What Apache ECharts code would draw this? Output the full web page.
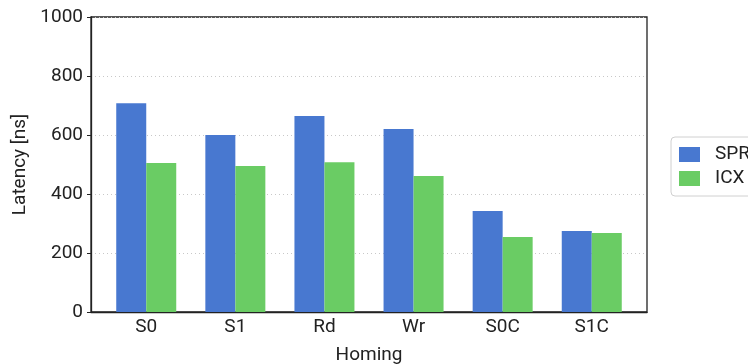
<!DOCTYPE html>
<html>
<head>
<meta charset="utf-8">
<script src="https://cdn.jsdelivr.net/npm/echarts@6/dist/echarts.min.js"></script>
<style>
html,body{margin:0;padding:0;background:#fff;}
#chart{width:748px;height:364px;}
</style>
</head>
<body>
<div id="chart"></div>
<script>
const categories = ['S0', 'S1', 'Rd', 'Wr', 'S0C', 'S1C'];
const sprValues = [708, 600, 664, 620, 342, 275];
const icxValues = [505, 495, 508, 461, 254, 268];
const yTicks = [0, 200, 400, 600, 800, 1000];
const seriesNames = ['SPR', 'ICX'];

const chart = echarts.init(document.getElementById('chart'), null, {renderer: 'canvas'});
const font = 'Roboto';
const fs = 19;
const toPairs = vals => vals.map((v, i) => [i, v]);

chart.setOption({
  animation: false,
  backgroundColor: '#fff',
  textStyle: {fontFamily: font},
  grid: {
    left: 91, top: 17, width: 556, height: 295,
    outerBoundsMode: 'none', containLabel: false,
    show: true, borderColor: '#222', borderWidth: 1.3, backgroundColor: 'transparent'
  },
  legend: {
    left: 671, top: 137,
    orient: 'vertical',
    data: seriesNames,
    itemWidth: 21, itemHeight: 15, itemGap: 5,
    padding: [8, 10, 8, 8],
    borderColor: '#d0d0d0', borderWidth: 1, borderRadius: 4,
    icon: 'rect',
    textStyle: {fontFamily: font, fontSize: fs, color: '#222', lineHeight: 15, padding: [0, 0, 0, 10]}
  },
  xAxis: {
    type: 'value',
    min: -0.62, max: 5.62,
    name: 'Homing', nameLocation: 'middle', nameGap: 34,
    nameTextStyle: {fontFamily: font, fontSize: fs, color: '#222'},
    axisLine: {show: true, onZero: false, lineStyle: {color: '#222', width: 1.3}},
    axisTick: {show: false},
    splitLine: {show: false},
    axisLabel: {
      customValues: categories.map((c, i) => i),
      formatter: v => categories[Math.round(v)] || '',
      fontFamily: font, fontSize: fs, color: '#222', margin: 6
    }
  },
  yAxis: {
    type: 'value',
    min: yTicks[0], max: yTicks[yTicks.length - 1], interval: 200,
    name: 'Latency [ns]', nameLocation: 'middle', nameGap: 54,
    nameTextStyle: {fontFamily: font, fontSize: fs, color: '#222'},
    axisLine: {show: true, onZero: false, lineStyle: {color: '#222', width: 1.3}},
    axisTick: {show: true, length: 4, lineStyle: {color: '#222', width: 1}},
    axisLabel: {fontFamily: font, fontSize: fs, color: '#222', margin: 8, formatter: v => String(v)},
    splitLine: {show: true, lineStyle: {color: '#c8c8c8', width: 1, type: [1, 3]}}
  },
  series: [
    {name: seriesNames[0], type: 'bar', data: toPairs(sprValues), barWidth: 30, barGap: '0%',
     itemStyle: {color: '#4878d0'}},
    {name: seriesNames[1], type: 'bar', data: toPairs(icxValues), barWidth: 30, barGap: '0%',
     itemStyle: {color: '#6acc64'}}
  ]
});
</script>
</body>
</html>
